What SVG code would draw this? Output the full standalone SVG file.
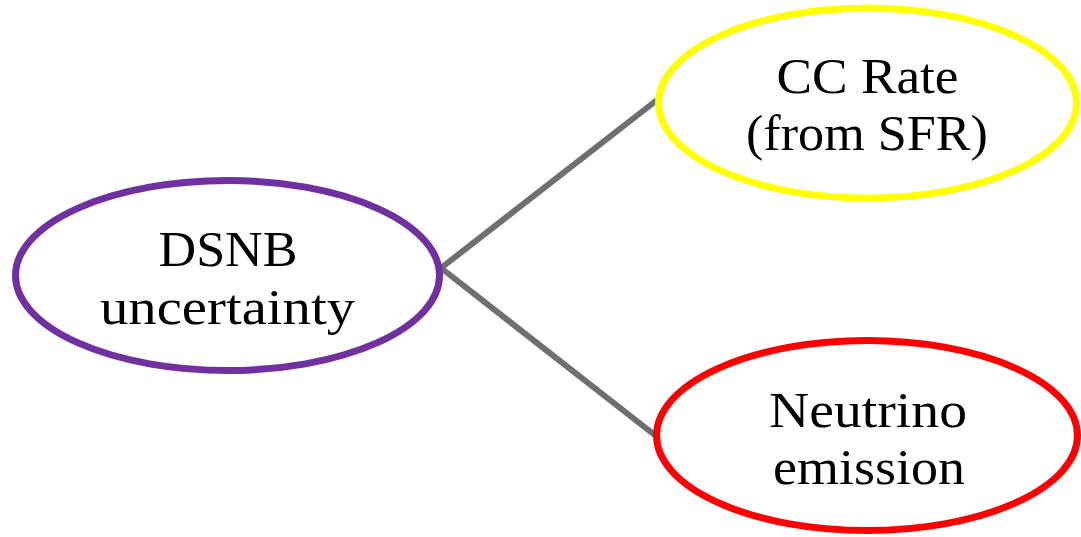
<svg xmlns="http://www.w3.org/2000/svg" width="1081" height="537" viewBox="0 0 1081 537">
<style>
.node{fill:#ffffff;stroke-width:7}
.lbl{font-family:"Liberation Serif","Times New Roman",serif;font-size:51px;fill:#000;text-anchor:middle}
.conn{stroke:#6e6e73;stroke-width:6;fill:none;stroke-linecap:butt}
</style>
<rect width="1081" height="537" fill="#ffffff"/>
<g id="connectors">
<line class="conn" x1="441" y1="268" x2="657" y2="100"/>
<line class="conn" x1="441" y1="268" x2="656" y2="436"/>
</g>
<g id="dsnb">
<ellipse class="node" cx="227.5" cy="275.5" rx="212" ry="95" stroke="#7030a0"/>
<text class="lbl" x="228" y="266" textLength="139" lengthAdjust="spacingAndGlyphs">DSNB</text>
<text class="lbl" x="227.5" y="324" textLength="255" lengthAdjust="spacingAndGlyphs">uncertainty</text>
</g>
<g id="cc-rate">
<ellipse class="node" cx="867.5" cy="103" rx="209" ry="95" stroke="#ffff00"/>
<text class="lbl" x="867.5" y="93" textLength="182" lengthAdjust="spacingAndGlyphs">CC Rate</text>
<text class="lbl" x="867" y="150" textLength="242" lengthAdjust="spacingAndGlyphs">(from SFR)</text>
</g>
<g id="neutrino">
<ellipse class="node" cx="867" cy="435.5" rx="210.5" ry="95" stroke="#ff0000"/>
<text class="lbl" x="868" y="427" textLength="198" lengthAdjust="spacingAndGlyphs">Neutrino</text>
<text class="lbl" x="869" y="484" textLength="192" lengthAdjust="spacingAndGlyphs">emission</text>
</g>
</svg>
